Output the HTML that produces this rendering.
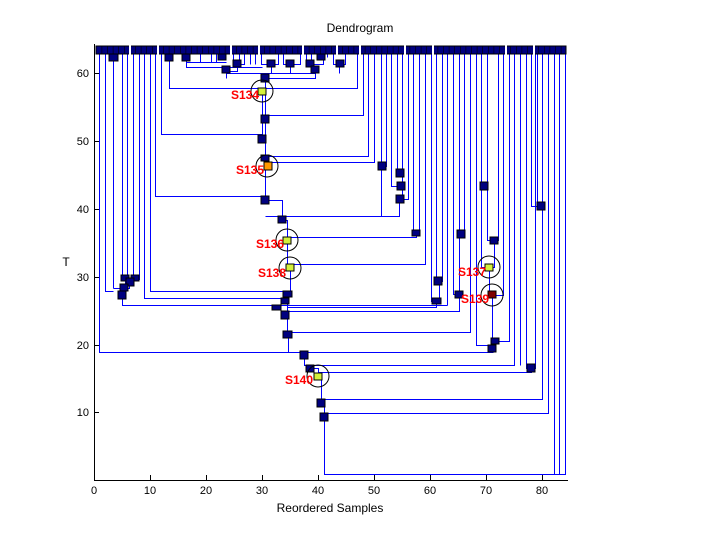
<!DOCTYPE html>
<html><head><meta charset="utf-8"><style>
html,body{margin:0;padding:0;background:#fff;}
svg{display:block;font-family:"Liberation Sans",sans-serif;}
</style></head><body>
<svg width="720" height="540" viewBox="0 0 720 540">
<rect width="720" height="540" fill="#fff"/>
<text x="360" y="32" font-size="12" text-anchor="middle">Dendrogram</text>
<text x="330" y="512" font-size="12" text-anchor="middle">Reordered Samples</text>
<text x="66" y="266" font-size="12" text-anchor="middle">T</text>
<g stroke="#0000ff" stroke-width="1.2" fill="none" shape-rendering="crispEdges" transform="translate(0.5,0.5)">
<path d="M99 50V352H493"/>
<path d="M105 50V291H113"/>
<path d="M113 57V288"/>
<path d="M122 50V279H127V50M125 279V283H133V279M133 50V279H139V50"/>
<path d="M129 283V288H113M122 288V305H447"/>
<path d="M144 50V298H285"/>
<path d="M150 50V291H287"/>
<path d="M155 50V196H265"/>
<path d="M161 50V134H262"/>
<path d="M169 57V88H357V50"/>
<path d="M186 57V62H226M200 50V62M211 50V62M216 50V62"/>
<path d="M186 62V67H262"/>
<path d="M222 50V57M233 50V64H244V50M239 50V64M237 64V71H226V73H315"/>
<path d="M250 50V64M255 50V64M261 50V64H278V50M271 64V73"/>
<path d="M283 50V64H300V50M290 64V73M306 50V64M311 50V64H323V57M321 50V57M327 50V57"/>
<path d="M333 50V64H345V50M339 64V73M315 73V78H265M226 73V78"/>
<path d="M265 78V200H282V220H287V237V264H290V294H287V335H288V352H304V365H310V368H318V376H321V403H324V474H565V50"/>
<path d="M262 91V134M265 115H363V50M265 156H368V50M268 162H374V50"/>
<path d="M265 216H399V199M381 50V216M386 50V166H381"/>
<path d="M391 50V186H402M397 50V173H402V50M402 173V199M408 50V199H400"/>
<path d="M287 237H416V233M413 50V233H419V50"/>
<path d="M290 264H425V50"/>
<path d="M431 50V301H439M436 50V281H442V50M439 281V301M436 301V307H287"/>
<path d="M447 50V305"/>
<path d="M453 50V294H459V234M459 50V234H464V50M459 294V311H287"/>
<path d="M287 332H470V50"/>
<path d="M476 50V345H495V341"/>
<path d="M481 50V267H494V240M487 50V240H498V50M489 267V295H503V50M492 295V341H509V50"/>
<path d="M304 365H514V50M520 50V365"/>
<path d="M526 50V368H535V50M318 372H531V368"/>
<path d="M321 399H542V50M324 413H548V50M554 50V474M559 50V474"/>
<path d="M537 50V206M531 50V206H541"/>
</g>
<g fill="#00007f" stroke="#000" stroke-width="1">
<rect x="109" y="53" width="9" height="8"/><rect x="165" y="53" width="8" height="8"/><rect x="182" y="53" width="8" height="8"/>
<rect x="218" y="53" width="8" height="7"/><rect x="222" y="66" width="8" height="7"/><rect x="233" y="60" width="8" height="7"/>
<rect x="267" y="60" width="8" height="7"/><rect x="286" y="60" width="8" height="7"/><rect x="306" y="60" width="8" height="7"/>
<rect x="317" y="53" width="8" height="7"/><rect x="311" y="66" width="8" height="7"/><rect x="336" y="60" width="8" height="7"/>
<rect x="261" y="74" width="8" height="8"/><rect x="261" y="115" width="8" height="8"/><rect x="258" y="135" width="8" height="8"/>
<rect x="261" y="155" width="8" height="6"/><rect x="261" y="196" width="8" height="8"/><rect x="278" y="216" width="8" height="7"/>
<rect x="121" y="275" width="8" height="6"/><rect x="131" y="275" width="8" height="6"/><rect x="126" y="278" width="8" height="8"/>
<rect x="120" y="284" width="8" height="7"/><rect x="118" y="291" width="8" height="8"/>
<rect x="283" y="291" width="9" height="6"/><rect x="281" y="298" width="8" height="6"/><rect x="272" y="305" width="9" height="5"/>
<rect x="281" y="311" width="8" height="8"/><rect x="283" y="331" width="9" height="7"/>
<rect x="300" y="351" width="8" height="8"/><rect x="306" y="365" width="8" height="7"/><rect x="317" y="399" width="8" height="8"/><rect x="320" y="413" width="8" height="8"/>
<rect x="378" y="162" width="8" height="8"/><rect x="396" y="169" width="8" height="8"/><rect x="397" y="182" width="8" height="8"/><rect x="396" y="195" width="8" height="8"/>
<rect x="412" y="230" width="8" height="6"/><rect x="457" y="230" width="8" height="8"/><rect x="434" y="277" width="8" height="8"/><rect x="432" y="298" width="9" height="6"/>
<rect x="455" y="291" width="8" height="7"/><rect x="480" y="182" width="8" height="8"/><rect x="490" y="237" width="8" height="7"/>
<rect x="537" y="202" width="8" height="8"/><rect x="491" y="338" width="8" height="6"/><rect x="488" y="345" width="8" height="7"/><rect x="527" y="364" width="8" height="8"/>
</g>
<g fill="#00007f" stroke="#000" stroke-width="1">
<rect x="96" y="46" width="470" height="8"/>
</g>
<g stroke="#000" stroke-width="0.6">
<path d="M101.9 46V54M107.5 46V54M113.1 46V54M118.7 46V54M124.3 46V54M135.5 46V54M141.1 46V54M146.7 46V54M152.3 46V54M163.5 46V54M169.1 46V54M174.7 46V54M180.3 46V54M185.9 46V54M191.5 46V54M197.1 46V54M202.7 46V54M208.3 46V54M213.9 46V54M219.5 46V54M225.1 46V54M236.3 46V54M241.9 46V54M247.5 46V54M253.1 46V54M264.3 46V54M269.9 46V54M275.5 46V54M281.1 46V54M286.7 46V54M292.3 46V54M297.9 46V54M309.1 46V54M314.7 46V54M320.3 46V54M325.9 46V54M331.5 46V54M342.7 46V54M348.3 46V54M353.9 46V54M365.1 46V54M370.7 46V54M376.3 46V54M381.9 46V54M387.5 46V54M393.1 46V54M398.7 46V54M409.9 46V54M415.5 46V54M421.1 46V54M426.7 46V54M437.9 46V54M443.5 46V54M449.1 46V54M454.7 46V54M460.3 46V54M465.9 46V54M471.5 46V54M477.1 46V54M482.7 46V54M488.3 46V54M493.9 46V54M499.5 46V54M510.7 46V54M516.3 46V54M521.9 46V54M527.5 46V54M538.7 46V54M544.3 46V54M549.9 46V54M555.5 46V54M561.1 46V54"/>
</g>
<g stroke="#fff" stroke-width="2" shape-rendering="crispEdges">
<path d="M130 45V55M158 45V55M231 45V55M259 45V55M303 45V55M337 45V55M360 45V55M405 45V55M433 45V55M506 45V55M534 45V55"/>
</g>
<g stroke="#000" stroke-width="1">
<circle cx="262" cy="91" r="11" fill="none"/><rect x="258" y="88" width="8" height="7" fill="#d4f03c"/>
<circle cx="267" cy="166" r="11" fill="none"/><rect x="264" y="162" width="8" height="8" fill="#ff9900"/>
<circle cx="287" cy="240" r="11" fill="none"/><rect x="283" y="237" width="8" height="7" fill="#d4f03c"/>
<circle cx="290" cy="268" r="11" fill="none"/><rect x="286" y="264" width="8" height="7" fill="#d4f03c"/>
<circle cx="489" cy="267" r="11" fill="none"/><rect x="485" y="264" width="8" height="7" fill="#d4f03c"/>
<circle cx="492" cy="295" r="11" fill="none"/><rect x="488" y="291" width="8" height="7" fill="#7f0000"/>
<circle cx="318" cy="376" r="11" fill="none"/><rect x="314" y="373" width="8" height="7" fill="#d4f03c"/>
</g>
<g fill="#ff0000" font-size="12" font-weight="bold" text-anchor="end">
<text x="259" y="99">S134</text><text x="264" y="174">S135</text><text x="284" y="248">S136</text>
<text x="286" y="277">S138</text><text x="486" y="276">S137</text><text x="489" y="303">S139</text><text x="313" y="384">S140</text>
</g>
<g stroke="#000" stroke-width="1" fill="none" shape-rendering="crispEdges">
<path d="M94.5 44V480.5H568"/>
<path d="M94 73.5h5M94 141.5h5M94 209.5h5M94 277.5h5M94 345.5h5M94 412.5h5"/>
<path d="M150.5 480v-5M206.5 480v-5M262.5 480v-5M318.5 480v-5M374.5 480v-5M430.5 480v-5M486.5 480v-5M542.5 480v-5"/>
</g>
<g font-size="11" text-anchor="end">
<text x="89" y="77">60</text><text x="89" y="145">50</text><text x="89" y="213">40</text><text x="89" y="281">30</text><text x="89" y="349">20</text><text x="89" y="416">10</text>
</g>
<g font-size="11" text-anchor="middle">
<text x="94" y="494">0</text><text x="150" y="494">10</text><text x="206" y="494">20</text><text x="262" y="494">30</text><text x="318" y="494">40</text><text x="374" y="494">50</text><text x="430" y="494">60</text><text x="486" y="494">70</text><text x="542" y="494">80</text>
</g>
</svg>
</body></html>
